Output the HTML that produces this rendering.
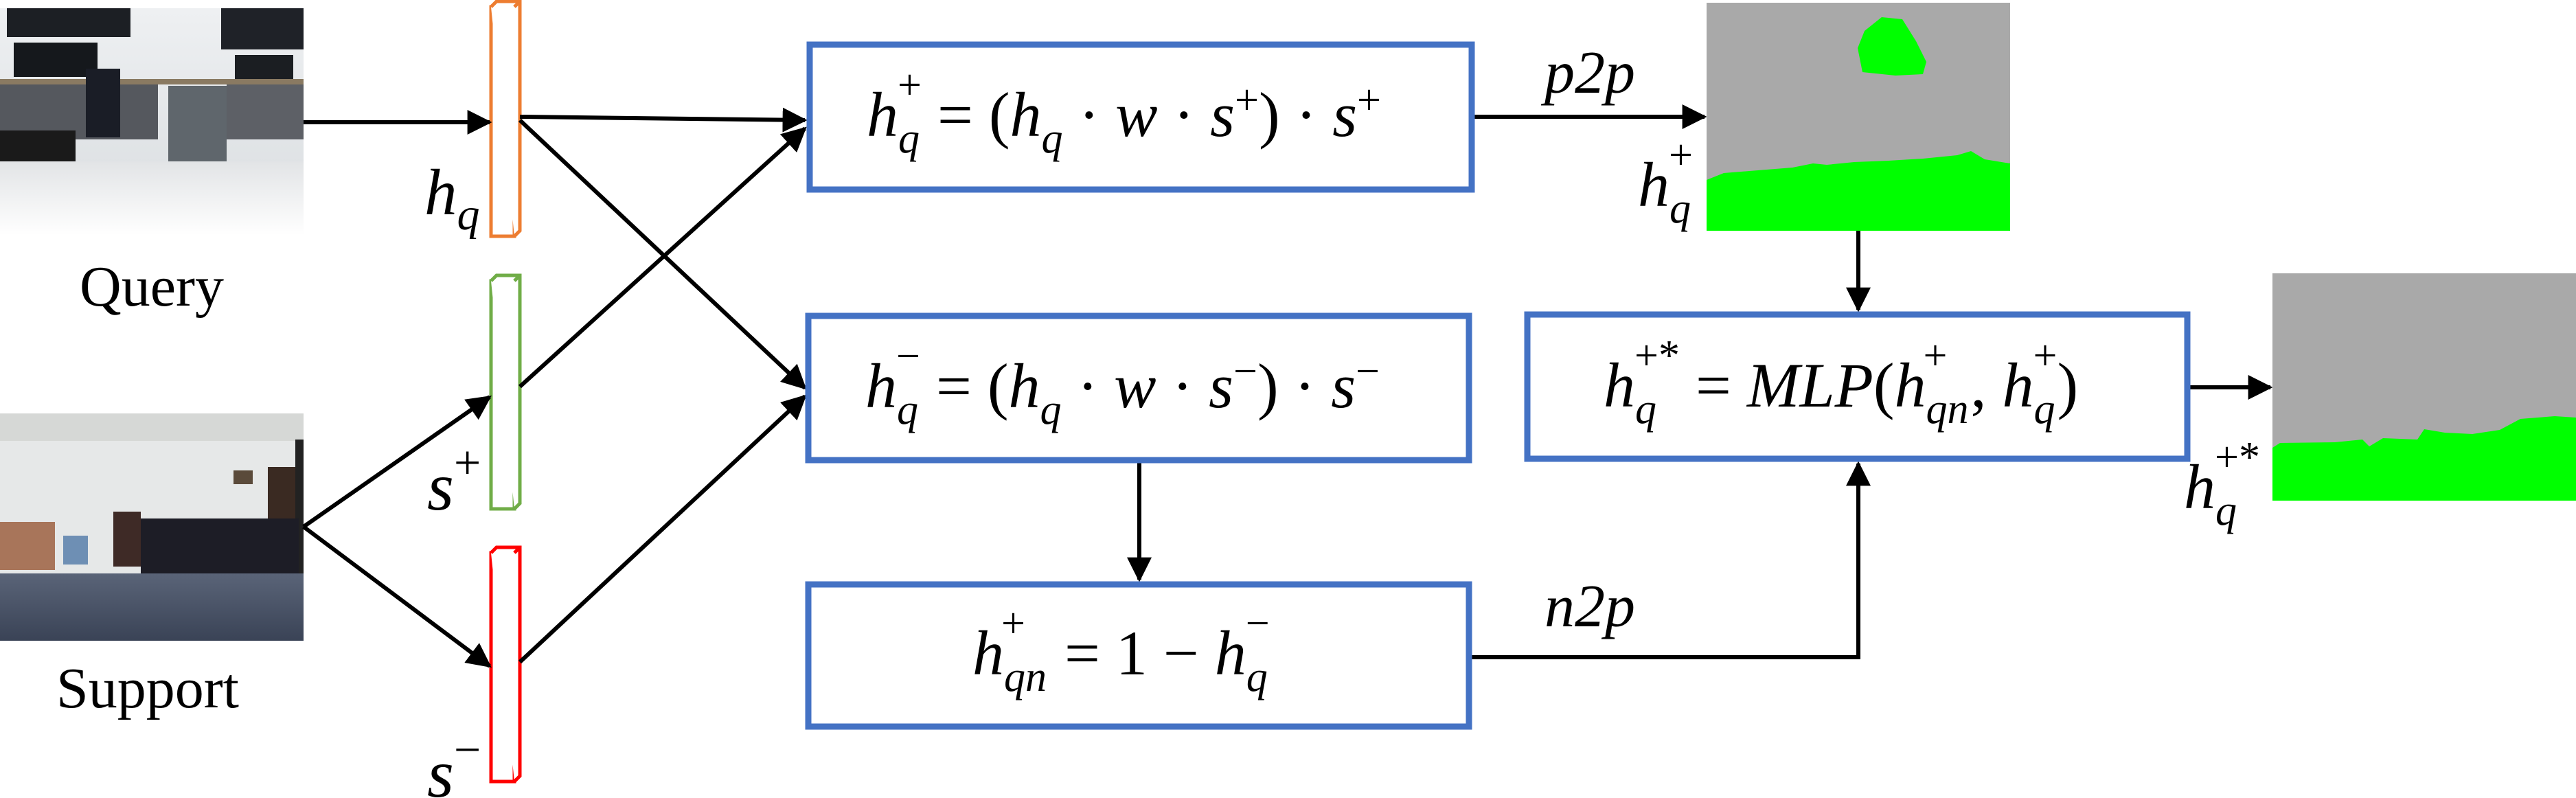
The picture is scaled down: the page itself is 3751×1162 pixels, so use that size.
<!DOCTYPE html>
<html><head><meta charset="utf-8"><style>
html,body{margin:0;padding:0;background:#fff;width:3751px;height:1162px;overflow:hidden}
svg{display:block}
text{font-family:"Liberation Serif",serif}
.m{font-style:italic}
</style></head><body>
<svg width="3751" height="1162" viewBox="0 0 3751 1162" xmlns="http://www.w3.org/2000/svg">
<defs>
<marker id="ah" viewBox="0 0 10 10" refX="9" refY="5" markerWidth="6" markerHeight="6" orient="auto-start-reverse" markerUnits="strokeWidth"><path d="M0,0 L10,5 L0,10 z" fill="#000"/></marker>
<linearGradient id="qw" x1="0" y1="0" x2="0" y2="1"><stop offset="0" stop-color="#eef0f2"/><stop offset="1" stop-color="#d8dcdf"/></linearGradient>
<linearGradient id="qf" x1="0" y1="0" x2="0" y2="1"><stop offset="0" stop-color="#e2e4e6"/><stop offset="1" stop-color="#ffffff"/></linearGradient>
<linearGradient id="sc" x1="0" y1="0" x2="0" y2="1"><stop offset="0" stop-color="#5a6478"/><stop offset="1" stop-color="#3a4356"/></linearGradient>
</defs>

<!-- Query image -->
<g>
<rect x="0" y="12" width="442" height="331" fill="url(#qw)"/>
<rect x="10" y="12" width="180" height="42" fill="#1c1f24"/>
<rect x="322" y="12" width="120" height="60" fill="#1f2228"/>
<rect x="20" y="62" width="122" height="50" fill="#15181c"/>
<rect x="342" y="80" width="85" height="42" fill="#1b1e22"/>
<rect x="0" y="115" width="442" height="8" fill="#8a7a62"/>
<rect x="0" y="123" width="230" height="80" fill="#55585e"/>
<rect x="330" y="123" width="112" height="80" fill="#5d6066"/>
<rect x="245" y="125" width="85" height="110" fill="#5f666c"/>
<rect x="0" y="190" width="110" height="45" fill="#1a1a1a"/>
<rect x="125" y="100" width="50" height="100" fill="#1a1d26"/>
<rect x="0" y="235" width="442" height="108" fill="url(#qf)"/>
</g>
<text x="221" y="445" font-size="84" text-anchor="middle">Query</text>

<!-- Support image -->
<g>
<rect x="0" y="602" width="442" height="331" fill="#e6e8e8"/>
<rect x="0" y="602" width="442" height="40" fill="#d6d8d6"/>
<rect x="340" y="685" width="28" height="20" fill="#5a4a3a"/>
<rect x="390" y="680" width="40" height="80" fill="#3a2a22"/>
<rect x="430" y="640" width="12" height="200" fill="#222"/>
<rect x="0" y="760" width="80" height="70" fill="#a8755a"/>
<rect x="92" y="780" width="36" height="42" fill="#6e8fb4"/>
<rect x="165" y="745" width="40" height="80" fill="#3e2a26"/>
<rect x="205" y="755" width="230" height="80" fill="#1d1d26"/>
<rect x="0" y="835" width="442" height="98" fill="url(#sc)"/>
</g>
<text x="215" y="1030" font-size="84" text-anchor="middle">Support</text>

<!-- 3D bars -->
<g fill="#fff" stroke-width="5">
<g stroke="#ed7d31"><rect x="715" y="10" width="34" height="334"/><path d="M715,10 L723,2 L757,2 L757,336 L749,344 M749,10 L757,2"/></g>
<g stroke="#70ad47"><rect x="715" y="409" width="34" height="332"/><path d="M715,409 L723,401 L757,401 L757,733 L749,741 M749,409 L757,401"/></g>
<g stroke="#ff0000"><rect x="715" y="805" width="34" height="333"/><path d="M715,805 L723,797 L757,797 L757,1130 L749,1138 M749,805 L757,797"/></g>
</g>
<text class="m" x="618" y="312" font-size="95">h<tspan font-size="66" dy="22">q</tspan></text>
<text class="m" x="622" y="742" font-size="100">s<tspan font-size="70" dy="-45" font-style="normal">+</tspan></text>
<text class="m" x="622" y="1160" font-size="100">s<tspan font-size="70" dy="-45" font-style="normal">−</tspan></text>

<!-- arrows -->
<g stroke="#000" stroke-width="6" fill="none" marker-end="url(#ah)">
<line x1="442" y1="178" x2="713" y2="178"/>
<line x1="757" y1="170" x2="1172" y2="175"/>
<line x1="757" y1="175" x2="1172" y2="565"/>
<line x1="757" y1="563" x2="1172" y2="187"/>
<line x1="757" y1="964" x2="1172" y2="577"/>
<line x1="442" y1="767" x2="713" y2="578"/>
<line x1="442" y1="767" x2="713" y2="970"/>
<line x1="2147" y1="170" x2="2482" y2="170"/>
<line x1="1659" y1="674" x2="1659" y2="844"/>
<line x1="2706" y1="336" x2="2706" y2="451"/>
<polyline points="2143,957 2706,957 2706,675"/>
<line x1="3189" y1="564" x2="3306" y2="564"/>
</g>

<!-- boxes -->
<g fill="#fff" stroke="#4472c4" stroke-width="9">
<rect x="1179" y="65" width="964" height="211"/>
<rect x="1177" y="460" width="962" height="210"/>
<rect x="1177" y="851" width="962" height="207"/>
<rect x="2224" y="458" width="961" height="210"/>
</g>

<!-- box texts -->
<text x="1262" y="198" font-size="92"><tspan class="m">h</tspan><tspan class="m" font-size="62" dy="24">q</tspan><tspan font-size="62" dx="-32" dy="-78">+</tspan><tspan dy="54"> = (</tspan><tspan class="m">h</tspan><tspan class="m" font-size="62" dy="24">q</tspan><tspan dy="-24"> · </tspan><tspan class="m">w</tspan><tspan> · </tspan><tspan class="m">s</tspan><tspan font-size="62" dy="-32">+</tspan><tspan dy="32">) · </tspan><tspan class="m">s</tspan><tspan font-size="62" dy="-32">+</tspan></text>
<text x="1260" y="593" font-size="92"><tspan class="m">h</tspan><tspan class="m" font-size="62" dy="24">q</tspan><tspan font-size="62" dx="-32" dy="-78">−</tspan><tspan dy="54"> = (</tspan><tspan class="m">h</tspan><tspan class="m" font-size="62" dy="24">q</tspan><tspan dy="-24"> · </tspan><tspan class="m">w</tspan><tspan> · </tspan><tspan class="m">s</tspan><tspan font-size="62" dy="-32">−</tspan><tspan dy="32">) · </tspan><tspan class="m">s</tspan><tspan font-size="62" dy="-32">−</tspan></text>
<text x="1416" y="982" font-size="92"><tspan class="m">h</tspan><tspan class="m" font-size="62" dy="24">qn</tspan><tspan font-size="62" dx="-66" dy="-78">+</tspan><tspan dx="34" dy="54"> = 1 − </tspan><tspan class="m">h</tspan><tspan class="m" font-size="62" dy="24">q</tspan><tspan font-size="62" dx="-32" dy="-78">−</tspan></text>
<text x="2335" y="592" font-size="92"><tspan class="m">h</tspan><tspan class="m" font-size="62" dy="24">q</tspan><tspan font-size="62" dx="-32" dy="-78">+*</tspan><tspan dy="54"> = </tspan><tspan class="m">MLP</tspan><tspan>(</tspan><tspan class="m">h</tspan><tspan class="m" font-size="62" dy="24">qn</tspan><tspan font-size="62" dx="-66" dy="-78">+</tspan><tspan dx="34" dy="54">, </tspan><tspan class="m">h</tspan><tspan class="m" font-size="62" dy="24">q</tspan><tspan font-size="62" dx="-32" dy="-78">+</tspan><tspan dy="54">)</tspan></text>

<text class="m" x="2249" y="135" font-size="88">p2p</text>
<text class="m" x="2249" y="912" font-size="88">n2p</text>

<!-- seg image top -->
<rect x="2485" y="4" width="442" height="332" fill="#a9a9a9"/>
<path d="M2485,336 L2485,262 L2510,252 L2560,248 L2610,244 L2640,238 L2660,240 L2700,236 L2750,234 L2800,231 L2850,226 L2870,220 L2890,232 L2927,238 L2927,336 Z" fill="#00ff00"/>
<path d="M2712,105 L2705,70 L2715,45 L2740,25 L2770,28 L2790,60 L2805,90 L2800,108 L2760,110 Z" fill="#00ff00"/>
<text class="m" x="2385" y="300" font-size="92">h<tspan font-size="62" dy="24">q</tspan><tspan font-size="62" dx="-32" dy="-78" font-style="normal">+</tspan></text>

<!-- seg image right -->
<rect x="3309" y="398" width="442" height="331" fill="#a9a9a9"/>
<path d="M3309,729 L3309,652 L3320,645 L3400,644 L3440,640 L3450,650 L3470,638 L3520,640 L3530,625 L3560,630 L3600,632 L3640,626 L3670,610 L3720,606 L3751,608 L3751,729 Z" fill="#00ff00"/>
<text class="m" x="3180" y="740" font-size="92">h<tspan font-size="62" dy="24">q</tspan><tspan font-size="62" dx="-32" dy="-78" font-style="normal">+*</tspan></text>
</svg>
</body></html>
